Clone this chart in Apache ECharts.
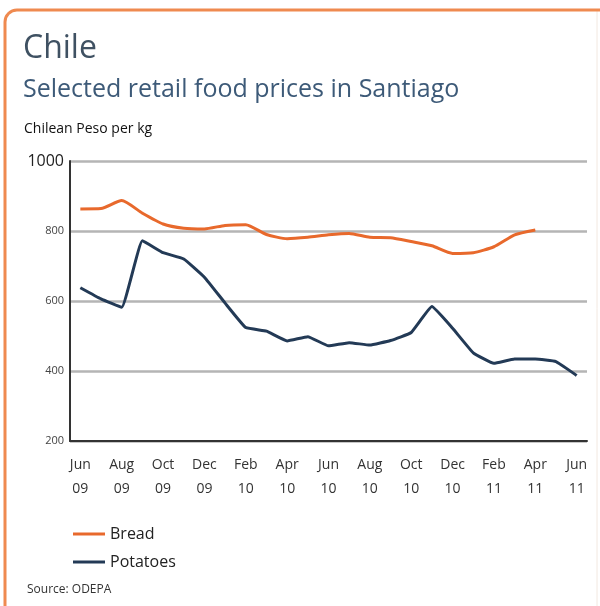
<!DOCTYPE html>
<html>
<head>
<meta charset="utf-8">
<script src="https://cdn.jsdelivr.net/npm/echarts@6/dist/echarts.min.js"></script>
<style>
  html, body { margin: 0; padding: 0; background: #fff; }
  #chart-container { width: 600px; height: 606px; }
</style>
</head>
<body>
<div id="chart-container"></div>
<script>
var months = ['Jun 09','Jul 09','Aug 09','Sep 09','Oct 09','Nov 09','Dec 09','Jan 10','Feb 10','Mar 10','Apr 10','May 10',
  'Jun 10','Jul 10','Aug 10','Sep 10','Oct 10','Nov 10','Dec 10','Jan 11','Feb 11','Mar 11','Apr 11','May 11','Jun 11'];
var bread = [863, 864, 887, 851, 820, 808, 806, 816, 818, 790, 778, 782,
  789, 793, 782, 781, 770, 758, 736, 738, 755, 789, 803, null, null];
var potatoes = [638, 606, 582, 772, 738, 720, 668, 594, 524, 514, 486, 498,
  472, 481, 474, 487, 510, 584, 522, 452, 422, 434, 434, 427, 387];

var font = '"Open Sans", "Noto Sans", sans-serif';
var chartDom = document.getElementById('chart-container');
var myChart = echarts.init(chartDom);

var option = {
  backgroundColor: '#fff',
  animation: false,
  textStyle: { fontFamily: font },
  title: [
    { text: 'Chile', left: 18, top: 28,
      textStyle: { fontSize: 32, fontWeight: 'normal', color: '#3f5162', fontFamily: font } },
    { text: 'Selected retail food prices in Santiago', left: 18, top: 72,
      textStyle: { fontSize: 25, fontWeight: 'normal', color: '#3d5a78', fontFamily: font } },
    { text: 'Chilean Peso per kg', left: 19, top: 117,
      textStyle: { fontSize: 14, fontWeight: 'normal', color: '#111', fontFamily: font } }
  ],
  legend: {
    orient: 'vertical',
    left: 68,
    top: 521,
    icon: 'rect',
    itemWidth: 32,
    itemHeight: 3,
    itemGap: 12,
    textStyle: { fontSize: 16, color: '#222', fontFamily: font },
    data: ['Bread', 'Potatoes']
  },
  grid: { left: 70, right: 13, top: 161, bottom: 165, containLabel: false },
  xAxis: {
    type: 'category',
    data: months,
    boundaryGap: true,
    axisLine: { lineStyle: { color: '#333', width: 2 } },
    axisTick: { alignWithLabel: true, interval: 0, length: 6, lineStyle: { color: '#333', width: 2 } },
    axisLabel: {
      interval: 1,
      margin: 12,
      color: '#333',
      fontSize: 14,
      lineHeight: 24,
      fontFamily: font,
      formatter: function (v) { return v.replace(' ', '\n'); }
    },
    splitLine: { show: false }
  },
  yAxis: {
    type: 'value',
    min: 200,
    max: 1000,
    interval: 200,
    axisLine: { show: true, lineStyle: { color: '#333', width: 2 } },
    axisTick: { show: false },
    axisLabel: {
      margin: 6,
      color: '#333',
      fontFamily: font,
      formatter: function (v) { return v === 1000 ? '{big|' + v + '}' : '{small|' + v + '}'; },
      rich: {
        big: { fontSize: 16, color: '#222', fontFamily: font },
        small: { fontSize: 11, color: '#444', fontFamily: font }
      }
    },
    splitLine: { lineStyle: { color: '#b5b5b5', width: 2.5 } }
  },
  series: [
    {
      name: 'Bread',
      type: 'line',
      data: bread,
      symbol: 'none',
      smooth: 0.2,
      color: '#e8692c',
      lineStyle: { color: '#e8692c', width: 3 }
    },
    {
      name: 'Potatoes',
      type: 'line',
      data: potatoes,
      symbol: 'none',
      smooth: 0.1,
      color: '#233a56',
      lineStyle: { color: '#233a56', width: 3 }
    }
  ],
  graphic: [
    {
      type: 'rect',
      shape: { x: 5, y: 10, width: 592, height: 640, r: [12, 0, 0, 0] },
      style: { fill: 'none', stroke: '#f2e8e0', lineWidth: 1 },
      silent: true
    },
    {
      type: 'rect',
      shape: { x: 5, y: 10, width: 640, height: 640, r: [12, 0, 0, 0] },
      style: { fill: 'none', stroke: '#ef8a50', lineWidth: 3 },
      silent: true
    },
    {
      type: 'text',
      left: 27,
      top: 584,
      style: { text: 'Source: ODEPA', fontSize: 12, fill: '#333', fontFamily: font }
    }
  ]
};

option && myChart.setOption(option);
</script>
</body>
</html>
